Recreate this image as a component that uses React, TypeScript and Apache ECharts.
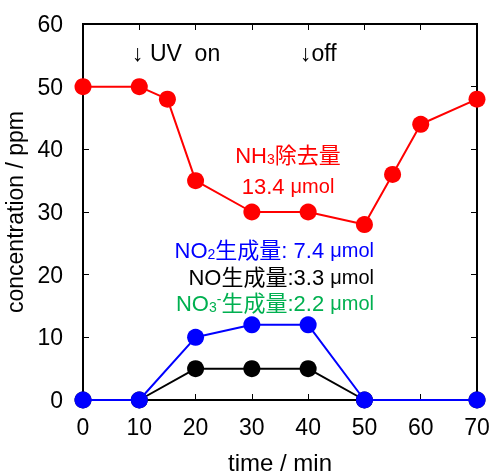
import React, { useEffect, useRef } from "react";
import * as echarts from "echarts";

const nh3Times = [0, 10, 15, 20, 30, 40, 50, 55, 60, 70];
const nh3Values = [50, 50, 48, 35, 30, 30, 28, 36, 44, 48];
const noxTimes = [0, 10, 20, 30, 40, 50, 70];
const no2Values = [0, 0, 10, 12, 12, 0, 0];
const noValues = [0, 0, 5, 5, 5, 0, 0];

const xMin = 0, xMax = 70, xStep = 10;
const yMin = 0, yMax = 60, yStep = 10;

const FONT = "Liberation Sans, Arial, Noto Sans CJK JP, sans-serif";
const RED = "#ff0000";
const BLUE = "#0000ff";
const BLACK = "#000000";
const GREEN = "#00b050";

const W = 493, H = 475;

function pairs(xs: number[], ys: number[]) {
  return xs.map((x, i) => [x, ys[i]]);
}

function rich(color: string, size: number) {
  return {
    b: { fontSize: size, fontFamily: FONT, fill: color },
    s: { fontSize: Math.round(size * 0.65), fontFamily: FONT, fill: color, verticalAlign: "bottom" },
    p: { fontSize: Math.round(size * 0.65), fontFamily: FONT, fill: color, verticalAlign: "top" },
    u: { fontSize: size - 2, fontFamily: FONT, fill: color },
  };
}

const mkLine = () => ({ show: true, onZero: false, lineStyle: { color: "#000000", width: 2 } });
const mkTick = () => ({ show: true, inside: true, length: 6, lineStyle: { color: "#000000", width: 1 } });
const noSplit = () => ({ show: false });

export default function App() {
  const ref = useRef<HTMLDivElement>(null);
  useEffect(() => {
    if (!ref.current) return;
    const chart = echarts.init(ref.current, null, { renderer: "svg" });
    const lineSeries = (name: string, data: number[][], color: string, z: number) => ({
      name,
      type: "line",
      data,
      clip: false,
      z,
      symbol: "circle",
      symbolSize: 17,
      itemStyle: { color },
      lineStyle: { color, width: 2 },
    });
    chart.setOption({
      animation: false,
      grid: {
        left: 83, right: 16, top: 24, bottom: 75, outerBoundsMode: "none",
        show: true, borderColor: "#000000", borderWidth: 2,
      },
      xAxis: [
        {
          type: "value",
          min: xMin,
          max: xMax,
          interval: xStep,
          position: "bottom",
          axisLine: mkLine(),
          axisTick: mkTick(),
          splitLine: noSplit(),
          axisLabel: { color: "#000", fontSize: 23, fontFamily: FONT, margin: 15 },
          name: "time / min",
          nameLocation: "middle",
          nameGap: 50,
          nameTextStyle: { color: "#000", fontSize: 24, fontFamily: FONT },
        },
        {
          type: "value",
          min: xMin,
          max: xMax,
          interval: xStep,
          position: "top",
          axisLine: mkLine(),
          axisTick: mkTick(),
          splitLine: noSplit(),
          axisLabel: { show: false },
        },
      ],
      yAxis: [
        {
          type: "value",
          min: yMin,
          max: yMax,
          interval: yStep,
          position: "left",
          axisLine: mkLine(),
          axisTick: mkTick(),
          splitLine: noSplit(),
          axisLabel: { color: "#000", fontSize: 23, fontFamily: FONT, margin: 20 },
          name: "concentration / ppm",
          nameLocation: "middle",
          nameGap: 53,
          nameTextStyle: { color: "#000", fontSize: 23, fontFamily: FONT },
        },
        {
          type: "value",
          min: yMin,
          max: yMax,
          interval: yStep,
          position: "right",
          axisLine: mkLine(),
          axisTick: mkTick(),
          splitLine: noSplit(),
          axisLabel: { show: false },
        },
      ],
      series: [
        lineSeries("NO", pairs(noxTimes, noValues), BLACK, 3),
        lineSeries("NO2", pairs(noxTimes, no2Values), BLUE, 4),
        lineSeries("NH3", pairs(nh3Times, nh3Values), RED, 5),
        { name: "frame", type: "line", xAxisIndex: 1, yAxisIndex: 1, data: [], silent: true },
      ],
      graphic: [
        {
          type: "text",
          style: { x: 132, y: 53, text: "↓ UV  on", fill: "#000", fontSize: 23, fontFamily: FONT, textVerticalAlign: "middle" },
        },
        {
          type: "text",
          style: { x: 300, y: 53, text: "↓off", fill: "#000", fontSize: 23, fontFamily: FONT, textVerticalAlign: "middle" },
        },
        {
          type: "text",
          style: {
            x: 288, y: 155, text: "{b|NH}{s|3}{b|除去量}", rich: rich(RED, 22),
            fill: RED, textAlign: "center", textVerticalAlign: "middle",
          },
        },
        {
          type: "text",
          style: {
            x: 288, y: 186, text: "{b|13.4 }{u|μmol}", rich: rich(RED, 22),
            fill: RED, textAlign: "center", textVerticalAlign: "middle",
          },
        },
        {
          type: "text",
          style: {
            x: 374, y: 250, text: "{b|NO}{s|2}{b|生成量: 7.4 }{u|μmol}", rich: rich(BLUE, 22),
            fill: BLUE, textAlign: "right", textVerticalAlign: "middle",
          },
        },
        {
          type: "text",
          style: {
            x: 374, y: 277, text: "{b|NO生成量:3.3 }{u|μmol}", rich: rich(BLACK, 22),
            fill: BLACK, textAlign: "right", textVerticalAlign: "middle",
          },
        },
        {
          type: "text",
          style: {
            x: 374, y: 303, text: "{b|NO}{s|3}{p|-}{b|生成量:2.2 }{u|μmol}", rich: rich(GREEN, 22),
            fill: GREEN, textAlign: "right", textVerticalAlign: "middle",
          },
        },
      ],
    });
    return () => chart.dispose();
  }, []);
  return <div ref={ref} style={{ position: "fixed", left: 0, top: 0, width: W, height: H }} />;
}
